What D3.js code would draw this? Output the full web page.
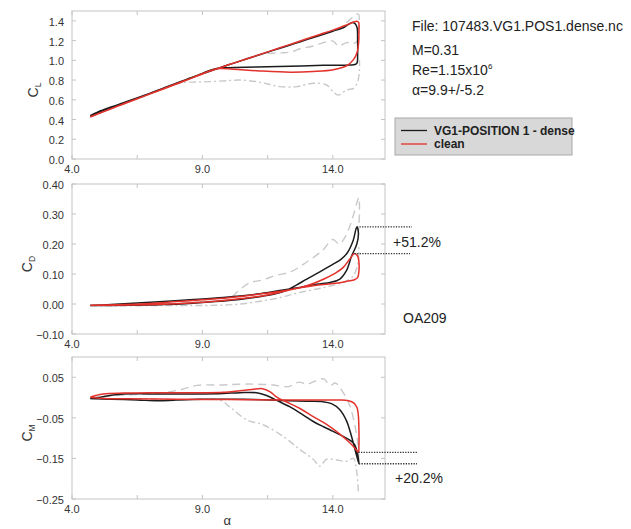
<!DOCTYPE html>
<html><head><meta charset="utf-8">
<script src="https://cdn.jsdelivr.net/npm/d3@7"></script>
<style>
body{margin:0;background:#fff}
svg{display:block}
text{font-family:"Liberation Sans",Arial,Helvetica,sans-serif}
</style>
</head><body>
<svg id="chart" width="631" height="529"></svg>
<script>
// ---------------- data ----------------
const alphaTicks = [4, 9, 14];
const alphaMinorTicks = [6.5, 11.5];
const alphaTickLabels = ["4.0", "9.0", "14.0"];
const clTicks = [0, 0.2, 0.4, 0.6, 0.8, 1.0, 1.2, 1.4];
const cdTicks = [-0.1, 0, 0.1, 0.2, 0.3, 0.4];
const cmTicks = [-0.25, -0.15, -0.05, 0.05];

const infoLines = ["File: 107483.VG1.POS1.dense.nc", "M=0.31", "Re=1.15x10", "α=9.9+/-5.2"];
const legendLabels = ["VG1-POSITION 1 - dense", "clean"];
const cdDeltaLabel = "+51.2%";
const cmDeltaLabel = "+20.2%";
const airfoilLabel = "OA209";

// C_L  [alpha, value]
const clVG = [[4.7,0.435],[5.0,0.47],[5.5,0.522],[6.0,0.568],[6.5,0.615],[7.0,0.665],[7.5,0.715],[8.0,0.765],[8.5,0.815],[9.0,0.865],[9.5,0.91],[10.0,0.955],[10.5,0.997],[11.0,1.04],[11.5,1.083],[12.0,1.125],[12.5,1.167],[13.0,1.21],[13.5,1.252],[14.0,1.295],[14.4,1.33],[14.72,1.382],[14.86,1.37],[14.93,1.33],[14.95,1.2],[14.95,1.05],[14.93,0.975],[14.85,0.958],[14.66,0.953],[13.64,0.949],[12.36,0.94],[11.08,0.932],[10.0,0.926],[9.6,0.92],[9.3,0.9],[9.0,0.868],[8.5,0.818],[8.0,0.768],[7.0,0.668],[6.0,0.572],[5.5,0.527],[5.0,0.478],[4.7,0.44]];
const clClean = [[4.7,0.425],[5.0,0.457],[5.5,0.51],[6.0,0.56],[6.5,0.61],[7.0,0.66],[7.5,0.71],[8.0,0.76],[8.5,0.81],[9.0,0.862],[9.5,0.908],[10.0,0.955],[10.5,0.998],[11.0,1.042],[11.5,1.086],[12.0,1.13],[12.5,1.174],[13.0,1.218],[13.5,1.262],[14.0,1.306],[14.5,1.355],[14.92,1.395],[14.99,1.385],[15.0,1.3],[14.99,1.18],[14.93,1.08],[14.79,1.007],[14.53,0.945],[14.02,0.905],[13.25,0.887],[12.36,0.88],[11.08,0.895],[10.18,0.91],[9.55,0.915],[9.2,0.885],[8.5,0.812],[8.0,0.762],[7.0,0.662],[6.0,0.562],[5.0,0.46],[4.7,0.428]];
const clGrayDash = [[4.7,0.44],[6,0.57],[7,0.67],[8,0.77],[9,0.865],[10,0.955],[11,1.04],[12,1.125],[13,1.21],[14,1.3],[14.3,1.335],[14.6,1.4],[14.97,1.47],[15.0,1.32],[14.96,1.2],[14.79,1.17],[14.53,1.18],[14.21,1.145],[14.02,1.195],[13.64,1.18],[13.25,1.145],[12.74,1.117],[12.4,1.085],[12.0,1.076],[11.5,1.07],[11.0,1.045],[10.5,1.0]];
const clGrayDashDot = [[4.7,0.43],[6,0.56],[7,0.66],[7.8,0.745],[8.3,0.775],[8.8,0.78],[9.3,0.784],[10.0,0.795],[10.44,0.80],[11.08,0.784],[11.5,0.76],[11.97,0.733],[12.61,0.733],[13.25,0.768],[13.76,0.75],[14.02,0.68],[14.21,0.647],[14.53,0.70],[14.79,0.716],[14.95,0.784],[15.02,0.9],[15.02,1.0]];

// C_D
const cdVG = [[4.7,-0.005],[5.5,-0.005],[6.5,-0.004],[7.5,-0.002],[8.5,0.002],[9.5,0.008],[10.5,0.016],[11.3,0.026],[11.8,0.034],[12.2,0.045],[12.6,0.063],[13.0,0.083],[13.5,0.107],[14.0,0.132],[14.3,0.148],[14.55,0.17],[14.78,0.212],[14.92,0.257],[14.98,0.238],[14.92,0.2],[14.72,0.16],[14.52,0.111],[14.27,0.083],[13.9,0.072],[13.38,0.066],[12.74,0.055],[12.1,0.047],[11.08,0.033],[9.8,0.022],[8.52,0.014],[7.5,0.008],[6.5,0.003],[5.5,-0.002],[4.7,-0.005]];
const cdClean = [[4.7,-0.004],[6,-0.002],[7,0.002],[8,0.008],[9,0.014],[10,0.021],[11,0.031],[11.8,0.04],[12.3,0.047],[12.8,0.056],[13.3,0.07],[13.7,0.085],[14.1,0.103],[14.4,0.122],[14.65,0.15],[14.83,0.168],[14.95,0.16],[15.0,0.14],[15.0,0.11],[14.95,0.088],[14.8,0.08],[14.5,0.075],[14.0,0.068],[13.3,0.062],[12.8,0.055],[12.3,0.046],[11.5,0.03],[10.5,0.018],[9.5,0.009],[8.5,0.003],[7.5,-0.001],[6.5,-0.003],[5.5,-0.004],[4.7,-0.004]];
const cdGrayDash = [[4.7,-0.004],[7,-0.002],[9,0.008],[10,0.016],[10.4,0.045],[10.8,0.07],[11.3,0.08],[11.8,0.095],[12.4,0.108],[13.0,0.14],[13.6,0.178],[14.0,0.215],[14.25,0.2],[14.5,0.228],[14.75,0.285],[14.95,0.345],[15.0,0.355],[15.02,0.3],[14.98,0.24]];
const cdGrayDashDot = [[4.7,-0.006],[8,-0.005],[10,-0.003],[11,0.006],[12,0.022],[12.7,0.038],[13.4,0.05],[14.0,0.062],[14.4,0.072],[14.75,0.09],[14.95,0.13],[15.0,0.19]];

// C_M
const cmVG = [[4.7,-0.002],[5.5,-0.004],[6.5,-0.006],[7.3,-0.008],[8,-0.006],[9,-0.004],[10,-0.004],[11,-0.005],[12,-0.007],[13,-0.009],[13.6,-0.01],[13.95,-0.015],[14.27,-0.03],[14.53,-0.058],[14.66,-0.083],[14.79,-0.113],[14.92,-0.145],[15.0,-0.163],[14.95,-0.14],[14.85,-0.118],[14.72,-0.108],[14.4,-0.096],[13.9,-0.08],[13.64,-0.072],[13.25,-0.059],[12.87,-0.043],[12.36,-0.023],[11.85,-0.007],[11.46,0.005],[11.08,0.012],[10.44,0.012],[9.8,0.01],[9,0.009],[8,0.009],[7,0.009],[6,0.009],[5.5,0.006],[5,0.0],[4.7,-0.002]];
const cmClean = [[4.7,0.001],[5.2,-0.002],[6,-0.003],[8,-0.004],[10,-0.005],[12,-0.006],[13.5,-0.006],[14.3,-0.006],[14.6,-0.008],[14.8,-0.013],[14.93,-0.025],[14.98,-0.045],[15.0,-0.08],[15.0,-0.12],[14.98,-0.135],[14.85,-0.125],[14.66,-0.112],[14.27,-0.09],[13.76,-0.066],[13.25,-0.047],[12.74,-0.027],[12.23,-0.011],[11.85,0.001],[11.6,0.014],[11.3,0.022],[10.9,0.02],[10.44,0.017],[9.8,0.013],[9,0.012],[8,0.012],[7,0.012],[6,0.011],[5.2,0.009],[4.9,0.005],[4.7,0.001]];
const cmGrayDash = [[4.7,0.0],[6,0.006],[7.5,0.012],[8.2,0.02],[8.8,0.03],[9.8,0.031],[10.4,0.033],[11.1,0.033],[11.7,0.031],[12.3,0.027],[12.7,0.038],[13.0,0.033],[13.3,0.04],[13.65,0.046],[13.9,0.03],[14.1,0.036],[14.4,0.012],[14.65,-0.02],[14.85,-0.07],[14.97,-0.12],[15.0,-0.16]];
const cmGrayDashDot = [[4.7,-0.003],[8,-0.005],[9.7,-0.007],[10.05,-0.023],[10.7,-0.055],[11.33,-0.067],[12.1,-0.096],[12.74,-0.128],[13.25,-0.152],[13.5,-0.169],[13.76,-0.152],[14.15,-0.154],[14.53,-0.157],[14.79,-0.15],[14.92,-0.185],[14.98,-0.235]];

// ---------------- drawing ----------------
const svg = d3.select("#chart");
const FRAME = "#c4c4c4", LABEL = "#333", BLACK = "#1c1c1c", RED = "#e3312b", GRAY = "#c9c9c9";
const x = d3.scaleLinear().domain([4, 16]).range([72, 385]);

const panels = [
  {top: 11, bottom: 159, domain: [0, 1.5], ticks: clTicks, fmt: d3.format(".1f"), sub: "L", tx: 38,
   series: [clGrayDashDot, clGrayDash, clVG, clClean]},
  {top: 184, bottom: 334, domain: [-0.1, 0.4], ticks: cdTicks, fmt: d3.format(".2f"), sub: "D", tx: 32,
   series: [cdGrayDashDot, cdGrayDash, cdVG, cdClean]},
  {top: 357, bottom: 499, domain: [-0.25, 0.10], ticks: cmTicks, fmt: d3.format(".2f"), sub: "M", tx: 32,
   series: [cmGrayDashDot, cmGrayDash, cmVG, cmClean]}
];
const styles = [
  {stroke: GRAY, dash: "7,3,2,3", w: 1.4},
  {stroke: GRAY, dash: "8,5", w: 1.4},
  {stroke: BLACK, dash: null, w: 1.5},
  {stroke: RED, dash: null, w: 1.5}
];

panels.forEach(p => {
  const y = d3.scaleLinear().domain(p.domain).range([p.bottom, p.top]);
  p.y = y;
  const g = svg.append("g");
  g.append("rect").attr("x", x(4)).attr("y", p.top).attr("width", x(16) - x(4)).attr("height", p.bottom - p.top)
    .attr("fill", "none").attr("stroke", FRAME).attr("stroke-width", 1);
  p.ticks.forEach(t => {
    const yy = y(t);
    g.append("line").attr("x1", x(4)).attr("x2", x(4) + 4).attr("y1", yy).attr("y2", yy).attr("stroke", FRAME);
    g.append("line").attr("x1", x(16)).attr("x2", x(16) - 4).attr("y1", yy).attr("y2", yy).attr("stroke", FRAME);
    g.append("text").attr("x", 64).attr("y", yy + 1).attr("text-anchor", "end").attr("dominant-baseline", "central")
      .attr("font-size", 11).attr("fill", LABEL).text(p.fmt(t));
  });
  alphaTicks.concat(alphaMinorTicks).forEach(t => {
    g.append("line").attr("x1", x(t)).attr("x2", x(t)).attr("y1", p.bottom).attr("y2", p.bottom - 4).attr("stroke", FRAME);
    g.append("line").attr("x1", x(t)).attr("x2", x(t)).attr("y1", p.top).attr("y2", p.top + 4).attr("stroke", FRAME);
  });
  alphaTicks.forEach((t, i) => {
    g.append("text").attr("x", x(t)).attr("y", p.bottom + 10).attr("text-anchor", "middle").attr("dominant-baseline", "central")
      .attr("font-size", 11).attr("fill", LABEL).text(alphaTickLabels[i]);
  });
  const ty = (p.top + p.bottom) / 2 + 5;
  const tt = g.append("text").attr("transform", `translate(${p.tx},${ty}) rotate(-90)`).attr("text-anchor", "middle")
    .attr("font-size", 14).attr("fill", LABEL);
  tt.append("tspan").text("C");
  tt.append("tspan").attr("font-size", 8.5).attr("dy", 3).text(p.sub);
  const line = d3.line().x(d => x(d[0])).y(d => y(d[1])).curve(d3.curveCatmullRom.alpha(0.5));
  p.series.forEach((s, i) => {
    const st = styles[i];
    g.append("path").attr("d", line(s)).attr("fill", "none").attr("stroke", st.stroke)
      .attr("stroke-width", st.w).attr("stroke-dasharray", st.dash).attr("stroke-linejoin", "round");
  });
});

svg.append("text").attr("x", x(9.95)).attr("y", 525).attr("text-anchor", "middle").attr("font-size", 13)
  .attr("fill", LABEL).text("α");

const info = svg.append("g").attr("fill", "#222").attr("font-size", 14);
info.append("text").attr("x", 412).attr("y", 31).text(infoLines[0]);
info.append("text").attr("x", 412).attr("y", 55).text(infoLines[1]);
const re = info.append("text").attr("x", 412).attr("y", 75);
re.append("tspan").text(infoLines[2]);
re.append("tspan").attr("font-size", 8).attr("dy", -6).text("6");
info.append("text").attr("x", 412).attr("y", 95).text(infoLines[3]);

const lg = svg.append("g");
lg.append("rect").attr("x", 395).attr("y", 118).attr("width", 177).attr("height", 37)
  .attr("fill", "#d8d8d8").attr("stroke", "#a8a8a8");
[BLACK, RED].forEach((c, i) => {
  const yy = 130.5 + i * 13.5;
  lg.append("line").attr("x1", 401).attr("x2", 427).attr("y1", yy).attr("y2", yy).attr("stroke", c).attr("stroke-width", 1.3);
  lg.append("text").attr("x", 434).attr("y", yy).attr("dominant-baseline", "central").attr("font-size", 12)
    .attr("font-weight", "bold").attr("fill", "#222").text(legendLabels[i]);
});

const pD = panels[1], pM = panels[2];
const cdPeakVG = d3.max(cdVG, d => d[1]), cdPeakClean = d3.max(cdClean, d => d[1]);
const cdPeakVGa = cdVG.find(d => d[1] === cdPeakVG)[0], cdPeakCleanA = cdClean.find(d => d[1] === cdPeakClean)[0];
const cmMinVG = d3.min(cmVG, d => d[1]), cmMinClean = d3.min(cmClean, d => d[1]);
const cmMinVGa = cmVG.find(d => d[1] === cmMinVG)[0], cmMinCleanA = cmClean.find(d => d[1] === cmMinClean)[0];
const dot = (x1, x2, yy) => svg.append("line").attr("x1", x1).attr("x2", x2).attr("y1", yy).attr("y2", yy)
  .attr("stroke", "#333").attr("stroke-width", 1.4).attr("stroke-dasharray", "1.3,1.3");
dot(x(cdPeakVGa), 412, pD.y(cdPeakVG));
dot(x(cdPeakCleanA), 410, pD.y(cdPeakClean));
dot(x(cmMinCleanA), 417, pM.y(cmMinClean));
dot(x(cmMinVGa), 417, pM.y(cmMinVG));

svg.append("text").attr("x", 393).attr("y", 242).attr("dominant-baseline", "central").attr("font-size", 14)
  .attr("fill", "#222").text(cdDeltaLabel);
svg.append("text").attr("x", 403).attr("y", 318).attr("dominant-baseline", "central").attr("font-size", 14)
  .attr("fill", "#222").text(airfoilLabel);
svg.append("text").attr("x", 395).attr("y", 478).attr("dominant-baseline", "central").attr("font-size", 14)
  .attr("fill", "#222").text(cmDeltaLabel);
</script>
</body></html>
